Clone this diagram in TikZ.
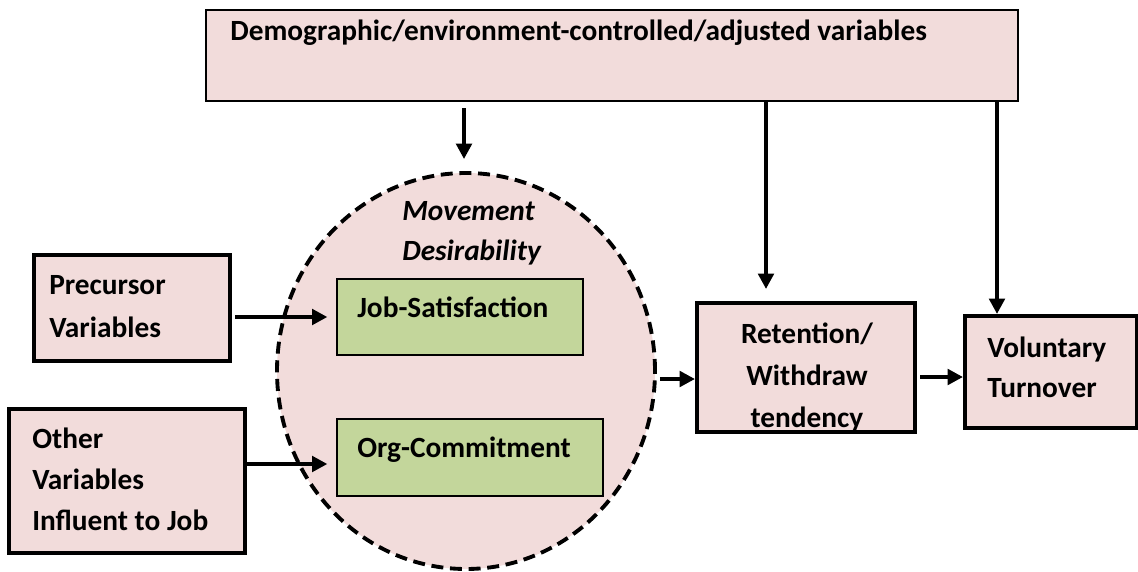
\documentclass[tikz,border=0pt]{standalone}
\usepackage{fontspec}
\setmainfont{Carlito}
\usepackage{tikz}
\usetikzlibrary{calc}
\usetikzlibrary{arrows.meta}
\usetikzlibrary{shapes.geometric}

\definecolor{boxpink}{HTML}{F2DCDB}
\definecolor{boxgreen}{HTML}{C3D69B}

\begin{document}
\begin{tikzpicture}[
        x=0.75pt, y=-0.75pt,
        every node/.style={font=\fontsize{22}{30.75}\selectfont\bfseries},
        pinkbox/.style={rectangle,draw,line width=3pt,fill=boxpink,inner sep=0pt},
        greenbox/.style={rectangle,draw,line width=0.9pt,fill=boxgreen,inner sep=0pt},
        boxtext/.style={inner sep=0pt,align=left,anchor=base west},
        conn/.style={line width=2.9pt,-{Triangle[length=11.5pt,width=11.5pt]}},
        ]
        \useasboundingbox (0,0) rectangle (1138,571);

        \node[pinkbox, line width=2.2pt, minimum width=609pt, minimum height=68.25pt](demo) at (612,55.5){};
        \node[boxtext](demo_txt) at (230,40){Demographic/environment-controlled/adjusted variables};

        \node[ellipse, draw, fill=boxpink, line width=2.9pt, dash pattern=on 9pt off 5pt,
            minimum width=283.5pt, minimum height=297pt, inner sep=0pt](move) at (466,371){};
        % multi-line nodes: base is the last line
        \node[boxtext, font=\fontsize{22}{30}\selectfont\bfseries\itshape](move_txt) at (402,260){Movement\\Desirability};

        \node[greenbox, minimum width=184.5pt, minimum height=57pt](jobsat) at (460,317){};
        \node[boxtext](jobsat_txt) at (357,317){Job-Satisfaction};
        \node[greenbox, minimum width=199.5pt, minimum height=57.75pt](orgcom) at (470,457.5){};
        \node[boxtext](orgcom_txt) at (357,457){Org-Commitment};

        \node[pinkbox, minimum width=147pt, minimum height=79.5pt](precursor) at (132,308){};
        \node[boxtext, font=\fontsize{22}{32}\selectfont\bfseries](precursor_txt) at (49,337){Precursor\\Variables};
        \node[pinkbox, minimum width=177pt, minimum height=108pt](other) at (127,481){};
        \node[boxtext](other_txt) at (32,530){Other\\Variables\\Influent to Job};

        \node[pinkbox, minimum width=163.5pt, minimum height=96.75pt](retention) at (806,367.5){};
        \node[boxtext, align=center, anchor=base, font=\fontsize{22}{31.5}\selectfont\bfseries](retention_txt) at (807,427){Retention/\\Withdraw\\tendency};
        \node[pinkbox, minimum width=129pt, minimum height=84pt](voluntary) at (1051,372){};
        \node[boxtext, font=\fontsize{22}{30}\selectfont\bfseries](voluntary_txt) at (987,397){Voluntary\\Turnover};

        \draw[conn] ($(demo.south -| move.north)+(-2,6)$) -- ($(move.north)+(-2,-12)$);
        \draw[conn] ($(retention.north |- demo.south)+(-40,0)$) -- ($(retention.north)+(-40,-12)$);
        \draw[conn] ($(voluntary.north |- demo.south)+(-54,0)$) -- ($(voluntary.north)+(-54,0)$);

        \draw[conn] ($(precursor.east |- jobsat.west)+(3,0)$) -- ($(jobsat.west)+(-9,0)$);
        \draw[conn] ($(other.east |- orgcom.west)+(0,6.5)$) -- ($(orgcom.west)+(-9,6.5)$);
        \draw[conn] ($(move.east)+(3,8)$) -- ($(retention.west |- move.east)+(0,8)$);
        \draw[conn] ($(retention.east |- voluntary.west)+(3,5)$) -- ($(voluntary.west)+(0,5)$);

        \end{tikzpicture}
\end{document}
